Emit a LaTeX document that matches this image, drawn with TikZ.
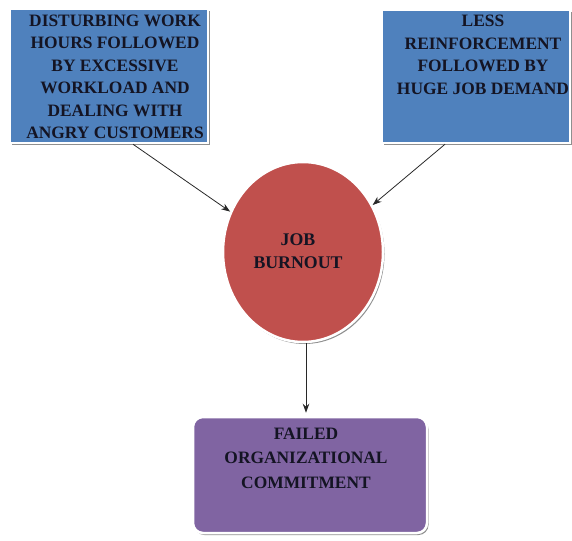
\documentclass[tikz,border=0pt]{standalone}
\usepackage{fontspec}
\setmainfont{Liberation Serif}
\usetikzlibrary{shapes.geometric,arrows.meta,shadows,calc}
\definecolor{boxblue}{RGB}{79,129,189}
\definecolor{burnred}{RGB}{192,80,77}
\definecolor{boxpurple}{RGB}{128,100,162}
\definecolor{linegray}{RGB}{40,40,40}
\definecolor{inkdark}{RGB}{20,20,35}
\tikzset{
  shape box/.style={draw=white, line width=2.5pt, inner sep=0pt,
    drop shadow={shadow xshift=1.5pt, shadow yshift=-2pt, fill=black!55, opacity=0.8}},
  lbl/.style={font=\fontsize{17.4}{22.5}\selectfont\bfseries, text=inkdark, align=center, inner sep=0pt},
  conn/.style={draw=linegray, line width=0.8pt, -{Stealth[length=9pt,width=6.5pt]}}
}
\begin{document}
\begin{tikzpicture}[x=1pt,y=-1pt]
\useasboundingbox (0,0) rectangle (572,540);
% boxes
\node[shape box, fill=boxblue, minimum width=198pt, minimum height=134pt] (lb) at (109,76) {};
\node[shape box, fill=boxblue, minimum width=188pt, minimum height=133pt] (rb) at (476,76.5) {};
\node[shape box, ellipse, fill=burnred, minimum width=160pt, minimum height=180pt] (ell) at (303,252) {};
\node[shape box, fill=boxpurple, rounded corners=10pt, minimum width=234pt, minimum height=116pt] (fb) at (310,475) {};
% texts
\node[lbl] (lt) at (115,77) {DISTURBING WORK\\HOURS FOLLOWED\\BY EXCESSIVE\\WORKLOAD AND\\DEALING WITH\\ANGRY CUSTOMERS};
\node[lbl] (rt) at (483,55) {LESS\\REINFORCEMENT\\FOLLOWED BY\\HUGE JOB DEMAND};
\node[lbl, font=\fontsize{17.8}{23}\selectfont\bfseries] (et) at (298,251.5) {JOB\\BURNOUT};
\node[lbl, font=\fontsize{17.4}{24.5}\selectfont\bfseries] (ft) at (306,458) {FAILED\\ORGANIZATIONAL\\COMMITMENT};
% connectors
\draw[conn] ($(lb.south)+(24,0)$) -- (ell.151);
\draw[conn] ($(rb.south)+(-31,0)$) -- (ell.34);
\draw[conn] ($(ell.south)+(3,0)$) -- ($(ell.south |- fb.north)+(3,-3)$);
\end{tikzpicture}
\end{document}
